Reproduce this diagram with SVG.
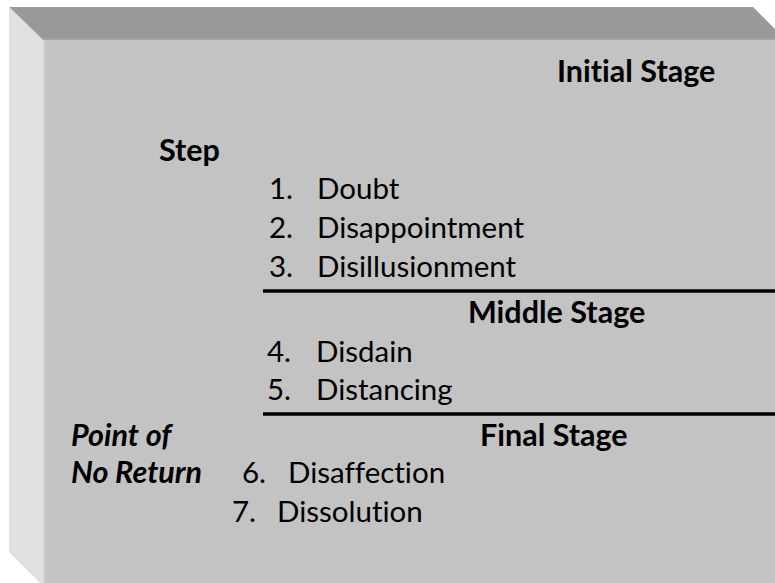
<svg xmlns="http://www.w3.org/2000/svg" width="775" height="583" viewBox="0 0 775 583">
<style>
  .t { font-family: Lato, "Liberation Sans", sans-serif; font-size: 29.5px; fill: #000; font-variant-ligatures: none; font-feature-settings: "liga" 0; }
  .b { font-weight: bold; font-size: 30.5px; }
  .bi { font-weight: bold; font-style: italic; font-size: 30.5px; }
  .rule { stroke: #000; stroke-width: 3.5; }
</style>
<rect x="0" y="0" width="775" height="583" fill="#ffffff"/>
<g id="box">
  <polygon points="9,7 753,7 786,40 43,40" fill="#999999"/>
  <polygon points="9,7 43,40 43,586 9,552" fill="#e0e0e0"/>
  <rect x="43" y="40" width="760" height="560" fill="#c3c3c3"/>
  <line x1="44" y1="40" x2="44" y2="586" stroke="#d3d3d3" stroke-width="2"/>
  <line x1="43" y1="39" x2="786" y2="39" stroke="#a3a3a3" stroke-width="2"/>
</g>
<g id="dividers">
  <line class="rule" x1="263" y1="291" x2="775" y2="291"/>
  <line class="rule" x1="263" y1="414" x2="775" y2="414"/>
</g>
<g id="initial-stage">
  <text class="t b" x="557" y="82">Initial Stage</text>
</g>
<g id="step-label">
  <text class="t b" x="159" y="161">Step</text>
</g>
<g id="initial-items">
  <text class="t" x="269" y="199">1.</text><text class="t" x="317" y="199">Doubt</text>
  <text class="t" x="269" y="238">2.</text><text class="t" x="317" y="238">Disappointment</text>
  <text class="t" x="269" y="277">3.</text><text class="t" x="317" y="277">Disillusionment</text>
</g>
<g id="middle-stage">
  <text class="t b" x="468" y="323">Middle Stage</text>
</g>
<g id="middle-items">
  <text class="t" x="267" y="362">4.</text><text class="t" x="316" y="362">Disdain</text>
  <text class="t" x="267" y="400">5.</text><text class="t" x="316" y="400">Distancing</text>
</g>
<g id="final-stage">
  <text class="t b" x="480" y="446">Final Stage</text>
</g>
<g id="point-of-no-return">
  <text class="t bi" x="71" y="446">Point of</text>
  <text class="t bi" x="71" y="483">No Return</text>
</g>
<g id="final-items">
  <text class="t" x="242" y="483">6.</text><text class="t" x="288" y="483">Disaffection</text>
  <text class="t" x="232" y="522">7.</text><text class="t" x="277" y="522">Dissolution</text>
</g>
</svg>
